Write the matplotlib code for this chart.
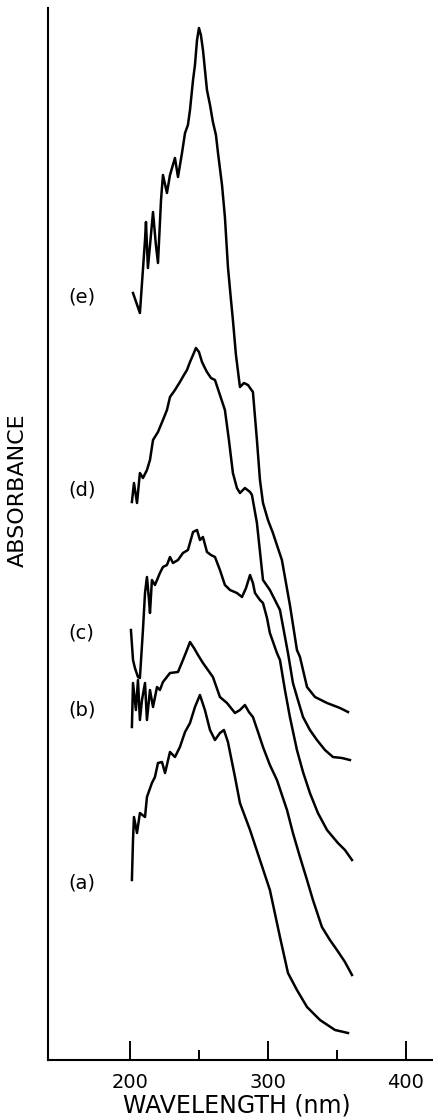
import matplotlib

matplotlib.use("Agg")
import matplotlib.pyplot as plt  # noqa: E402
from matplotlib.ticker import FixedLocator  # noqa: E402

# espectros UV (unidades arbitrarias, curvas desplazadas verticalmente)
wl_a = [201.4, 202.2, 202.9, 205.1, 207.2, 210.9, 212.3, 215.9, 218.1, 220.3, 223.2, 225.4,
        229.0, 232.6, 236.2, 239.9, 243.5, 247.1, 250.7, 254.3, 258.0, 261.6, 265.2, 268.1,
        271.0, 276.1, 279.7, 287.0, 294.2, 301.4, 308.7, 314.5, 321.0, 328.3, 337.7, 348.6, 358.0]
abs_a = [0.180, 0.220, 0.243, 0.227, 0.247, 0.243, 0.263, 0.277, 0.283, 0.297, 0.298, 0.287,
         0.308, 0.303, 0.313, 0.328, 0.337, 0.353, 0.365, 0.350, 0.330, 0.320, 0.327, 0.330,
         0.318, 0.283, 0.257, 0.230, 0.200, 0.170, 0.123, 0.087, 0.070, 0.053, 0.040, 0.030, 0.027]

wl_b = [201.4, 202.2, 204.3, 205.8, 207.2, 208.7, 210.9, 212.3, 214.5, 216.7, 219.6, 221.7,
        223.9, 229.0, 234.8, 238.4, 241.3, 243.5, 246.4, 249.3, 252.9, 256.5, 260.1, 265.2,
        270.3, 276.1, 279.7, 283.3, 286.2, 289.1, 292.8, 296.4, 301.4, 306.5, 313.8, 318.1,
        323.2, 328.3, 332.6, 339.1, 344.9, 350.0, 355.8, 360.9]
abs_b = [0.333, 0.377, 0.350, 0.380, 0.340, 0.360, 0.377, 0.340, 0.370, 0.353, 0.373, 0.370,
         0.378, 0.387, 0.388, 0.400, 0.410, 0.418, 0.412, 0.405, 0.397, 0.390, 0.383, 0.363,
         0.357, 0.347, 0.350, 0.355, 0.348, 0.343, 0.328, 0.313, 0.295, 0.280, 0.250, 0.227,
         0.203, 0.180, 0.160, 0.133, 0.120, 0.110, 0.098, 0.085]

wl_c = [200.7, 202.2, 203.6, 205.8, 207.2, 209.4, 210.9, 212.3, 213.8, 214.5, 215.9, 218.1,
        221.7, 223.9, 226.8, 229.0, 231.2, 234.8, 238.4, 242.0, 245.7, 248.6, 250.7, 252.9,
        255.8, 258.7, 261.6, 265.2, 268.8, 272.5, 277.5, 281.2, 284.1, 287.0, 289.1, 290.6,
        294.2, 296.4, 299.3, 301.4, 306.5, 308.7, 312.3, 315.9, 321.0, 325.4, 330.4, 336.2,
        342.8, 350.7, 355.8, 360.9]
abs_c = [0.430, 0.400, 0.392, 0.383, 0.382, 0.430, 0.467, 0.483, 0.460, 0.447, 0.480, 0.475,
         0.487, 0.493, 0.495, 0.503, 0.497, 0.500, 0.507, 0.510, 0.528, 0.530, 0.520, 0.523,
         0.508, 0.505, 0.503, 0.490, 0.475, 0.470, 0.467, 0.463, 0.472, 0.485, 0.477, 0.467,
         0.460, 0.457, 0.442, 0.427, 0.407, 0.400, 0.370, 0.343, 0.310, 0.288, 0.267, 0.247,
         0.230, 0.217, 0.210, 0.200]

wl_d = [201.4, 202.9, 205.1, 207.2, 209.4, 212.3, 214.5, 216.7, 220.3, 223.9, 226.8, 229.0,
        232.6, 236.2, 239.1, 241.3, 243.5, 245.7, 247.8, 250.0, 252.2, 254.3, 255.8, 258.7,
        261.6, 265.2, 268.8, 271.7, 274.6, 277.5, 279.7, 283.3, 287.0, 288.4, 292.0, 296.4,
        301.4, 308.7, 314.5, 318.1, 321.7, 325.4, 330.4, 335.5, 341.3, 347.1, 353.6, 359.4]
abs_d = [0.558, 0.577, 0.557, 0.587, 0.582, 0.590, 0.600, 0.620, 0.628, 0.640, 0.650, 0.663,
         0.670, 0.678, 0.685, 0.690, 0.698, 0.705, 0.712, 0.708, 0.698, 0.692, 0.688, 0.682,
         0.680, 0.665, 0.650, 0.620, 0.587, 0.572, 0.567, 0.572, 0.568, 0.565, 0.537, 0.480,
         0.470, 0.450, 0.407, 0.377, 0.360, 0.343, 0.330, 0.320, 0.310, 0.303, 0.302, 0.300]

wl_e = [202.2, 207.2, 210.9, 211.6, 213.0, 215.2, 216.7, 218.8, 220.3, 222.5, 223.9, 226.8,
        229.0, 232.6, 234.8, 237.7, 239.9, 242.0, 243.5, 245.7, 247.1, 248.6, 250.0, 251.4,
        252.9, 255.8, 258.0, 260.1, 262.3, 263.8, 266.7, 268.8, 271.0, 273.2, 274.6, 276.8,
        279.7, 282.6, 285.5, 289.1, 292.0, 294.2, 296.4, 300.0, 303.6, 307.2, 310.1, 315.9,
        321.0, 323.2, 328.3, 334.1, 342.8, 352.2, 358.0]
abs_e = [0.767, 0.747, 0.820, 0.838, 0.792, 0.825, 0.848, 0.815, 0.797, 0.860, 0.885, 0.867,
         0.885, 0.902, 0.883, 0.907, 0.927, 0.935, 0.950, 0.980, 0.995, 1.020, 1.032, 1.025,
         1.010, 0.970, 0.955, 0.938, 0.925, 0.907, 0.875, 0.843, 0.793, 0.760, 0.740, 0.705,
         0.673, 0.677, 0.675, 0.668, 0.620, 0.580, 0.557, 0.540, 0.527, 0.512, 0.500, 0.455,
         0.410, 0.403, 0.373, 0.363, 0.357, 0.352, 0.348]

curve_labels = ["(a)", "(b)", "(c)", "(d)", "(e)"]
label_y = [0.177, 0.350, 0.427, 0.570, 0.763]

major_ticks = [200, 300, 400]
minor_ticks = [250, 350]

fig = plt.figure(figsize=(4.33, 11.2), dpi=100)
ax = fig.add_axes((48 / 433, 60 / 1120, 385 / 433, 1052 / 1120))

for wl, ab in [(wl_a, abs_a), (wl_b, abs_b), (wl_c, abs_c), (wl_d, abs_d), (wl_e, abs_e)]:
    ax.plot(wl, ab, color="black", lw=1.8, solid_joinstyle="round")

for lab, y in zip(curve_labels, label_y):
    ax.text(165, y, lab, fontsize=14, ha="center", va="center")

ax.set_xlim(140.6, 419.6)
ax.set_ylim(0, 1.052)
ax.spines["top"].set_visible(False)
ax.spines["right"].set_visible(False)
ax.spines["left"].set_linewidth(1.5)
ax.spines["bottom"].set_linewidth(1.5)
ax.set_yticks([])
ax.xaxis.set_major_locator(FixedLocator(major_ticks))
ax.xaxis.set_minor_locator(FixedLocator(minor_ticks))
ax.tick_params(axis="x", which="major", direction="in", length=14, width=1.4, pad=9, labelsize=14)
ax.tick_params(axis="x", which="minor", direction="in", length=7, width=1.4)

ax.text(-0.078, 0.542, "ABSORBANCE", rotation=90, fontsize=16, ha="center", va="center",
        transform=ax.transAxes)
fig.text(237 / 433, 1 - 1105 / 1120, "WAVELENGTH (nm)", fontsize=17, ha="center", va="center")

fig.savefig("out.png", dpi=100)
